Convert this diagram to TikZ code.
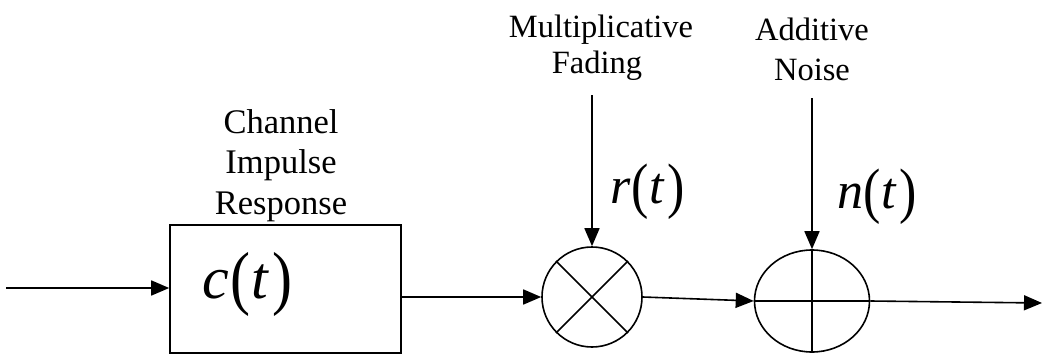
\documentclass[tikz,border=0pt]{standalone}
\usepackage{fontspec}
\setmainfont{Liberation Serif}
\usetikzlibrary{arrows.meta,shapes.geometric}
\newcommand{\tallp}[1]{\raisebox{-0.06em}{\scalebox{1}[1.18]{#1}}}
\tikzset{
  ln/.style={line width=1.6pt},
  arr/.style={ln,-{Triangle[length=18pt,width=15pt]}},
  lbl/.style={font=\fontsize{32.5}{38}\selectfont, align=center, anchor=base},
  clbl/.style={lbl, font=\fontsize{34.5}{40}\selectfont},
  sig/.style={font=\fontsize{60}{60}\selectfont, anchor=base west, inner sep=0pt},
  blk/.style={draw, ln, inner sep=0pt}
}
\begin{document}
\begin{tikzpicture}[x=1pt,y=-1pt]
\useasboundingbox (0,0) rectangle (1045,356);
% blocks
\node[blk, rectangle, minimum width=231pt, minimum height=128pt] (box) at (285.5,289) {};
\node[blk, circle, minimum size=100pt] (mult) at (592,297) {};
\node[blk, ellipse, minimum width=115pt, minimum height=102pt] (adder) at (812,301) {};
\draw[ln] (mult.north west) -- (mult.south east);
\draw[ln] (mult.north east) -- (mult.south west);
\draw[ln] (adder.north) -- (adder.south);
\draw[ln] (adder.west) -- (adder.east);
% signal texts
\node[sig] (c) at (202,298) {\textit{c}\kern2pt\tallp{(}\kern1pt\textit{t}\kern3pt\tallp{)}};
\node[sig, font=\fontsize{52}{52}\selectfont] (r) at (610,203) {\textit{r}\kern1pt\tallp{(}\kern1pt\textit{t}\kern2pt\tallp{)}};
\node[sig, font=\fontsize{52}{52}\selectfont] (n) at (837,208) {\textit{n}\tallp{(}\kern1pt\textit{t}\kern2pt\tallp{)}};
% labels
\node[clbl] (chl) at (281,133) {Channel};
\node[clbl] (imp) at (281,173) {Impulse};
\node[clbl] (rsp) at (281,214) {Response};
\node[lbl] (mul) at (601,37) {Multiplicative};
\node[lbl] (fad) at (597,73) {Fading};
\node[lbl] (add) at (812,40) {Additive};
\node[lbl] (noi) at (812,80) {Noise};
% connector ends
\coordinate (in) at (6,288);
\coordinate (ftop) at (592,95);
\coordinate (ntop) at (812,98);
\coordinate (out) at (1042,303);
% connectors
\draw[arr] (in) -- (box.west |- in);
\draw[arr] (box.east |- mult) -- (mult.west);
\draw[arr] (mult.east) -- (adder.west);
\draw[arr] (adder.east) -- (out);
\draw[arr] (ftop) -- (mult.north);
\draw[arr] (ntop) -- (adder.north);
\end{tikzpicture}
\end{document}
